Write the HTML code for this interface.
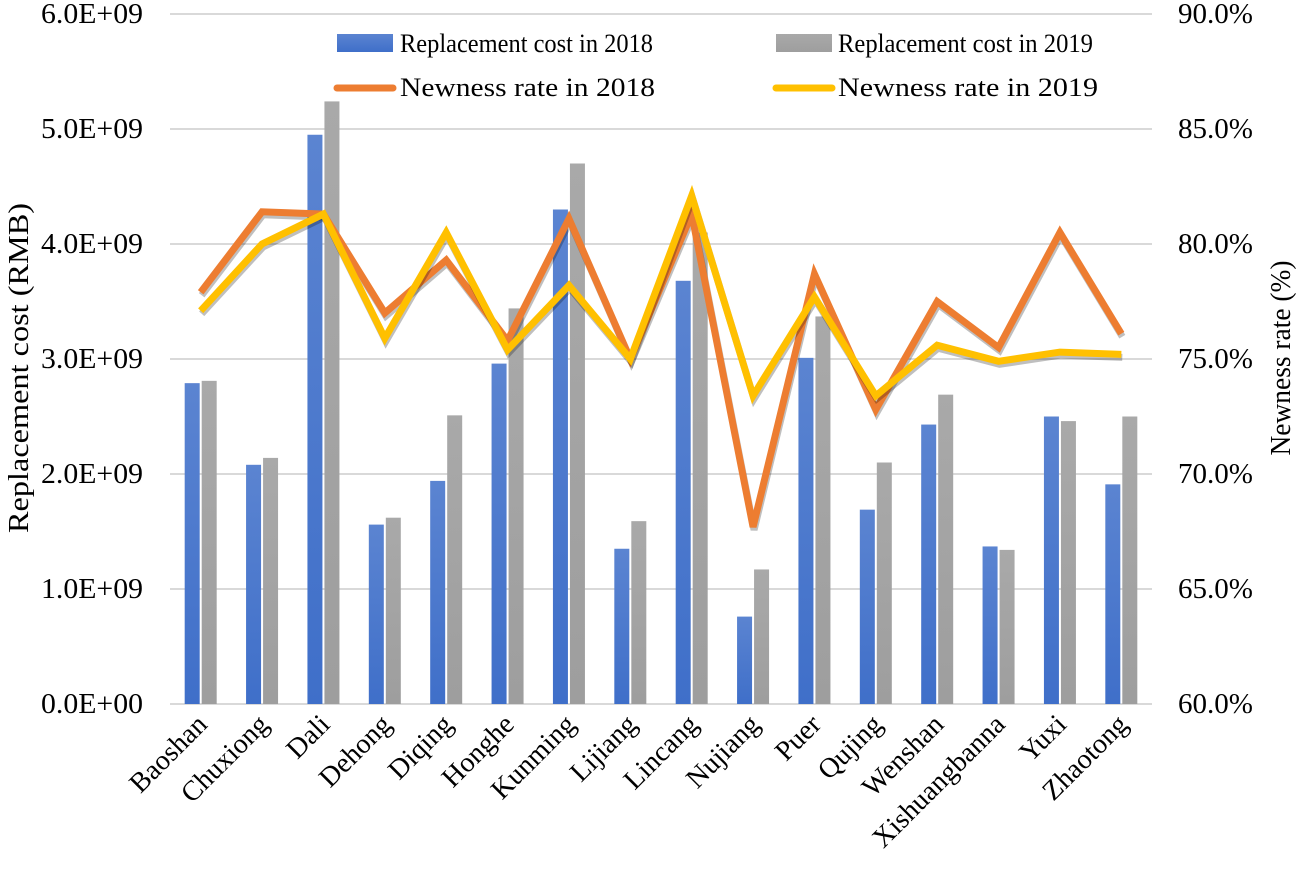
<!DOCTYPE html>
<html><head><meta charset="utf-8"><style>
body{margin:0;background:#fff}
svg text{font-family:"Liberation Serif",serif;fill:#000}
</style></head><body>
<svg width="1300" height="876" xmlns="http://www.w3.org/2000/svg">
<defs>
<linearGradient id="gb" x1="0" x2="0" y1="0" y2="1"><stop offset="0" stop-color="#5b84d1"/><stop offset="1" stop-color="#3f6fc9"/></linearGradient>
<linearGradient id="gg" x1="0" x2="0" y1="0" y2="1"><stop offset="0" stop-color="#a9a9a9"/><stop offset="1" stop-color="#9e9e9e"/></linearGradient>
</defs>
<g id="grid"></g><g id="bars"></g><g id="lines"></g><g id="axes"></g>
<g>
<rect x="337" y="34" width="56" height="18" fill="url(#gb)"/>
<text x="400" y="52" font-size="26" textLength="253" lengthAdjust="spacingAndGlyphs">Replacement cost in 2018</text>
<rect x="776" y="34" width="56" height="18" fill="url(#gg)"/>
<text x="838" y="52" font-size="26" textLength="255" lengthAdjust="spacingAndGlyphs">Replacement cost in 2019</text>
<line x1="337" y1="88" x2="393" y2="88" stroke="#ed7d31" stroke-width="7" stroke-linecap="round"/>
<text x="400" y="96" font-size="26" textLength="255" lengthAdjust="spacingAndGlyphs">Newness rate in 2018</text>
<line x1="776" y1="88" x2="832" y2="88" stroke="#ffc000" stroke-width="7" stroke-linecap="round"/>
<text x="838" y="96" font-size="26" textLength="260" lengthAdjust="spacingAndGlyphs">Newness rate in 2019</text>
</g>
<text transform="translate(28,368) rotate(-90)" text-anchor="middle" font-size="28" textLength="330" lengthAdjust="spacingAndGlyphs">Replacement cost (RMB)</text>
<text transform="translate(1290,358) rotate(-90)" text-anchor="middle" font-size="28" textLength="195" lengthAdjust="spacingAndGlyphs">Newness rate  (%)</text>
</svg>
<script>
const categories=["Baoshan","Chuxiong","Dali","Dehong","Diqing","Honghe","Kunming","Lijiang","Lincang","Nujiang","Puer","Qujing","Wenshan","Xishuangbanna","Yuxi","Zhaotong"];
const cost2018=[2.79,2.08,4.95,1.56,1.94,2.96,4.30,1.35,3.68,0.76,3.01,1.69,2.43,1.37,2.50,1.91];
const cost2019=[2.81,2.14,5.24,1.62,2.51,3.44,4.70,1.59,4.10,1.17,3.37,2.10,2.69,1.34,2.46,2.50];
const newness2018=[77.9,81.4,81.3,77.0,79.3,75.8,81.1,75.0,81.3,67.7,78.7,72.8,77.5,75.5,80.5,76.1];
const newness2019=[77.1,80.0,81.3,75.9,80.5,75.4,78.2,75.0,82.1,73.4,77.7,73.4,75.6,74.9,75.3,75.2];
const leftTicks=["0.0E+00","1.0E+09","2.0E+09","3.0E+09","4.0E+09","5.0E+09","6.0E+09"];
const rightTicks=["60.0%","65.0%","70.0%","75.0%","80.0%","85.0%","90.0%"];
const NS="http://www.w3.org/2000/svg";
const L=170,R=1152,T=14,B=704;
const yL=v=>B-(v/6)*(B-T);
const yR=v=>B-((v-60)/30)*(B-T);
const step=(R-L)/categories.length;
const xC=i=>L+step*(i+0.5);
function mk(tag,attrs,parent){const e=document.createElementNS(NS,tag);for(const k in attrs)e.setAttribute(k,attrs[k]);parent.appendChild(e);return e;}
const grid=document.getElementById('grid'),bars=document.getElementById('bars'),lines=document.getElementById('lines'),axes=document.getElementById('axes');
leftTicks.forEach((t,i)=>{
  const y=yL(i);
  const g=mk('line',{x1:L,x2:R,y1:y,y2:y,stroke:'#d9d9d9','stroke-width':2},grid);
  
  
  const tx=mk('text',{x:143,y:y+9,'text-anchor':'end','font-size':28,textLength:102,lengthAdjust:'spacingAndGlyphs'},axes);tx.textContent=t;
  
  
  const rx=mk('text',{x:1178,y:yR(60+i*5)+9,'font-size':28,textLength:75,lengthAdjust:'spacingAndGlyphs'},axes);rx.textContent=rightTicks[i];
  
  
});
categories.forEach((c,i)=>{
  const x=xC(i);
  const b1=mk('rect',{x:x-16,y:yL(cost2018[i]),width:15,height:B-yL(cost2018[i]),fill:'url(#gb)'},bars);
  
  
  const b2=mk('rect',{x:x+1,y:yL(cost2019[i]),width:15,height:B-yL(cost2019[i]),fill:'url(#gg)'},bars);
  
  
  const t=mk('text',{transform:`translate(${x+8},${B+22}) rotate(-45)`,'text-anchor':'end','font-size':28},axes);
  t.textContent=c;
  
  
});
function line(data,color,name){
  const pts=data.map((v,i)=>xC(i)+','+yR(v)).join(' ');
  const sh=mk('polyline',{points:pts,fill:'none',stroke:'rgba(0,0,0,0.25)','stroke-width':7,transform:'translate(1,3)','stroke-linejoin':'miter'},lines);
  
  
  const p=mk('polyline',{points:pts,fill:'none',stroke:color,'stroke-width':7,'stroke-linejoin':'miter'},lines);
  
  
}
line(newness2018,'#ed7d31','line-newness-2018');
line(newness2019,'#ffc000','line-newness-2019');
</script>
</body></html>
